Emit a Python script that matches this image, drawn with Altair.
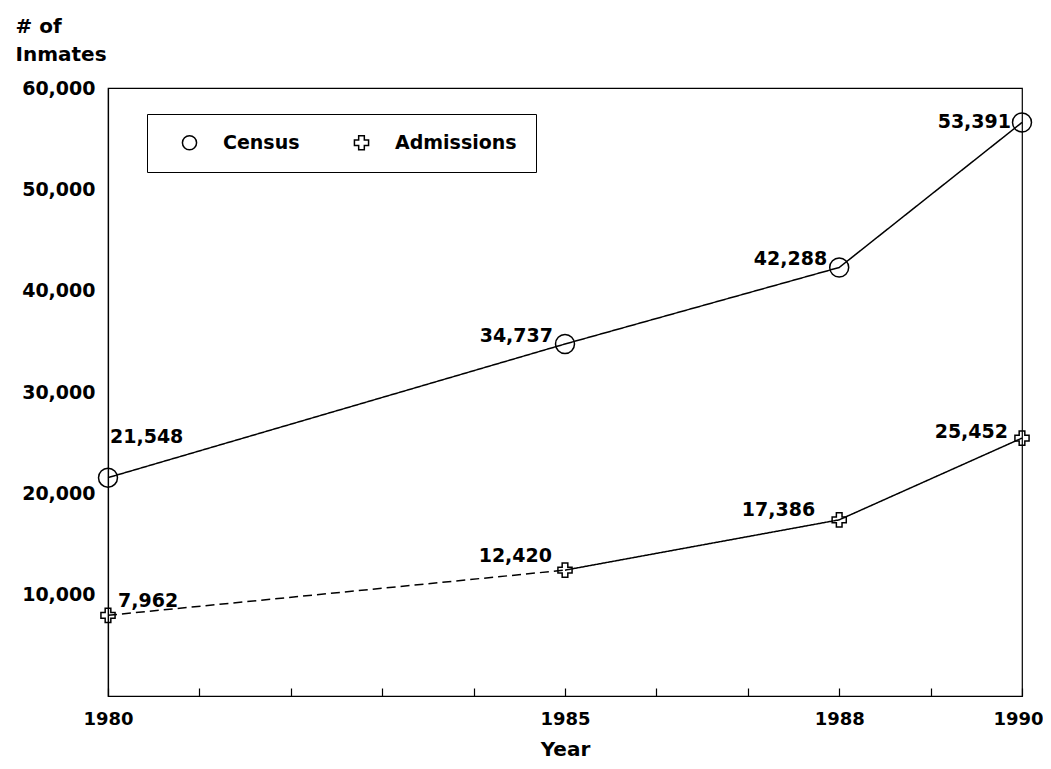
import altair as alt
import pandas as pd

# ---- data ----
years = [1980, 1985, 1988, 1990]
census_values = [21548, 34737, 42288, 56600]      # 1990 point is drawn above its printed value
census_labels = ["21,548", "34,737", "42,288", "53,391"]
admission_values = [7962, 12420, 17386, 25452]
admission_labels = ["7,962", "12,420", "17,386", "25,452"]
series_names = ["Census", "Admissions"]
x_label_years = [1980, 1985, 1988, 1990]
x_tick_years = [1980, 1981, 1982, 1983, 1984, 1985, 1986, 1987, 1988, 1989, 1990]
y_tick_values = [10000, 20000, 30000, 40000, 50000, 60000]

FONT = "DejaVu Sans"
W, H = 914, 608

rows = []
for i, yr in enumerate(years):
    rows.append({"year": yr, "value": census_values[i], "label": census_labels[i],
                 "series": "Census", "idx": i})
    rows.append({"year": yr, "value": admission_values[i], "label": admission_labels[i],
                 "series": "Admissions", "idx": i})
df = pd.DataFrame(rows)

seg_rows = []
for i, yr in enumerate(years):
    seg_rows.append({"year": yr, "value": census_values[i], "seg": "census", "dash": "solid"})
for i in range(0, 2):
    seg_rows.append({"year": years[i], "value": admission_values[i], "seg": "adm_a", "dash": "dashed"})
for i in range(1, len(years)):
    seg_rows.append({"year": years[i], "value": admission_values[i], "seg": "adm_b", "dash": "solid"})
seg_df = pd.DataFrame(seg_rows)

xs = alt.Scale(domain=[1980, 1990], nice=False, zero=False)
ys = alt.Scale(domain=[0, 60000], nice=False)

x_main = alt.X("year:Q", scale=xs, axis=alt.Axis(
    values=x_label_years, labelExpr="format(datum.value, 'd')", ticks=False, grid=False,
    labelFlush=False, labelOverlap=False, labelPadding=14,
    labelOffset={"condition": {"test": "datum.value == 1990", "value": -4}, "value": 0},
    labelFont=FONT, labelFontSize=18, labelFontWeight="bold", labelColor="black",
    domainColor="black", domainWidth=1.2,
    title="Year", titleFont=FONT, titleFontSize=20, titleFontWeight="bold",
    titleColor="black", titlePadding=11))

y_main = alt.Y("value:Q", scale=ys, axis=alt.Axis(
    values=y_tick_values, labelExpr="format(datum.value, ',')", ticks=False, grid=False,
    labelPadding=13,
    labelFont=FONT, labelFontSize=19, labelFontWeight="bold", labelColor="black",
    domainColor="black", domainWidth=1.2,
    title=["# of", "Inmates"], titleAngle=0, titleAlign="left", titleBaseline="top",
    titleX=-93, titleY=-72, titleFont=FONT, titleFontSize=20, titleFontWeight="bold",
    titleColor="black", titleLineHeight=28))

lines = alt.Chart(seg_df).mark_line(color="black", strokeWidth=1.5).encode(
    x=x_main,
    y=y_main,
    detail="seg:N",
    strokeDash=alt.StrokeDash("dash:N", scale=alt.Scale(domain=["solid", "dashed"],
                                                         range=[[1, 0], [9, 5]]), legend=None),
)

points = alt.Chart(df).mark_point(filled=False, color="black", strokeWidth=1.5, opacity=1).encode(
    x=alt.X("year:Q", scale=xs, axis=alt.Axis(
        orient="top", offset=-H, values=x_tick_years, tickSize=8, tickWidth=1.2,
        tickColor="black", labels=False, domain=False, grid=False, title="")),
    y=y_main,
    shape=alt.Shape("series:N", scale=alt.Scale(domain=series_names, range=["circle", "cross"]),
                    legend=alt.Legend(
                        title=None, orient="none", legendX=39, legendY=26,
                        direction="horizontal", strokeColor="black", padding=19,
                        fillColor="white",
                        labelFont=FONT, labelFontSize=19, labelFontWeight="bold",
                        labelColor="black", labelOffset=24, columnPadding=38,
                        symbolSize=200, symbolStrokeColor="black", symbolStrokeWidth=1.5,
                        symbolFillColor="transparent", symbolOffset=14)),
    size=alt.condition(alt.datum.series == "Census", alt.value(360), alt.value(200)),
)

def label_layer(series, idxs, align, dx, dy):
    return alt.Chart(df).transform_filter(alt.datum.series == series).transform_filter(
        alt.FieldOneOfPredicate(field="idx", oneOf=idxs)).mark_text(
        align=align, baseline="middle", dx=dx, dy=dy, font=FONT, fontSize=19,
        fontWeight="bold", color="black").encode(
        x=alt.X("year:Q", scale=xs, axis=None),
        y=y_main,
        text="label:N")

texts = [
    label_layer("Census", [0], "left", 2, -41),
    label_layer("Census", [1, 2], "right", -12, -8),
    label_layer("Census", [3], "right", -11, 0),
    label_layer("Admissions", [0], "left", 10, -14),
    label_layer("Admissions", [1], "right", -13, -14),
    label_layer("Admissions", [2], "right", -24, -10),
    label_layer("Admissions", [3], "right", -14, -6),
]

chart = alt.layer(lines, points, *texts).resolve_axis(x="independent").properties(
    width=W, height=H,
    background="white",
    autosize=alt.AutoSizeParams(type="none"),
    padding={"left": 100, "top": 80, "right": 21, "bottom": 65},
).configure_view(stroke="black", strokeWidth=1.2)

chart.save("out.html", embed_options={"renderer": "svg", "actions": False})
